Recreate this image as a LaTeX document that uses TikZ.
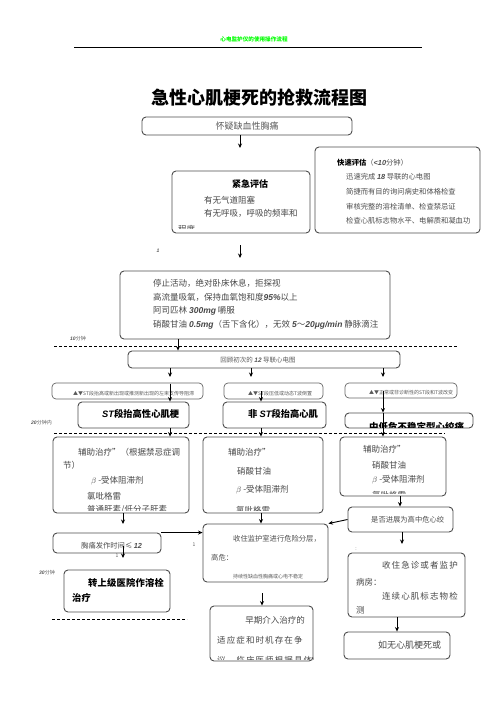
\documentclass[tikz,border=0pt]{standalone}
\usepackage{fontspec}
\setmainfont{Noto Sans CJK SC}
\newfontfamily\numfont{Liberation Sans}
\usetikzlibrary{arrows.meta}
\newcommand{\numbi}[1]{{\numfont\bfseries\itshape #1}}
\tikzset{
  box/.style={draw=black!70, line width=0.9pt, rounded corners=4pt, inner sep=0pt},
  thinbox/.style={draw=black!60, line width=0.7pt, rounded corners=4pt, inner sep=0pt},
  arr/.style={-{Stealth[length=4.5pt,width=4pt]}, line width=0.9pt},
  sep/.style={dash pattern=on 3pt off 2pt, line width=0.7pt},
  txt/.style={anchor=west, inner sep=0pt, text=black!72, font=\fontsize{8.5}{10}\selectfont},
  small/.style={anchor=west, inner sep=0pt, text=black!70, font=\fontsize{7.3}{9}\selectfont},
  tiny/.style={inner sep=0pt, text=black!65, font=\fontsize{5}{6}\selectfont},
  head/.style={anchor=west, inner sep=0pt, font=\bfseries\fontsize{9.3}{11}\selectfont},
  wide/.style={txt, font=\fontsize{8.5}{10}\selectfont\addfontfeature{LetterSpace=13}}
}
\begin{document}
\begin{tikzpicture}[x=1pt, y=-1pt]
    \useasboundingbox (0,0) rectangle (496,702);
    \node[inner sep=0pt, text=green, font=\bfseries\fontsize{5.6}{6}\selectfont] (header) at (254,39) {心电监护仪的使用操作流程};
    \draw[line width=0.6pt] (74,47) -- (422,47);
    \node[inner sep=0pt, font=\bfseries\fontsize{18}{20}\selectfont] (title) at (259,98) {急性心肌梗死的抢救流程图};

    \node[box, minimum width=210pt, minimum height=18pt, text=black!65, font=\fontsize{9}{10}\selectfont] (suspect) at (247,126) {怀疑缺血性胸痛};
    \node[box, minimum width=138pt, minimum height=62pt] (urgent) at (241,202) {};
    \node[box, minimum width=165pt, minimum height=86pt] (fast) at (397.5,190) {};
    \node[box, minimum width=270pt, minimum height=68pt] (stop) at (255,305) {};
    \node[box, minimum width=272pt, minimum height=17pt] (review) at (264,359.5) {};
    \node[thinbox, minimum width=151pt, minimum height=16pt] (stA) at (127.5,391) {};
    \node[thinbox, minimum width=99pt, minimum height=16pt] (stB) at (273.5,391) {};
    \node[thinbox, minimum width=112pt, minimum height=15pt] (stC) at (401,390.5) {};
    \node[box, minimum width=111pt, minimum height=26pt] (stemi) at (133.5,415) {};
    \node[box, minimum width=103pt, minimum height=26pt] (nstemi) at (274.5,415) {};
    \node[box, minimum width=128pt, minimum height=15pt] (ua) at (409,420.5) {};
    \node[box, minimum width=136pt, minimum height=76pt] (auxA) at (121,475) {};
    \node[box, minimum width=120pt, minimum height=76pt] (auxB) at (263,475) {};
    \node[box, minimum width=106pt, minimum height=59pt] (auxC) at (393,466.5) {};
    \node[box, minimum width=105pt, minimum height=25pt] (progress) at (400.5,519.5) {};
    \node[box, minimum width=108pt, minimum height=20pt] (onset) at (107,543) {};
    \node[box, minimum width=125pt, minimum height=58pt] (ccu) at (265.5,553) {};
    \node[box, minimum width=106pt, minimum height=42pt] (transfer) at (117,591) {};
    \node[box, minimum width=103pt, minimum height=55pt] (early) at (261.5,633.5) {};
    \node[box, minimum width=117pt, minimum height=64pt] (ward) at (406.5,585) {};
    \node[box, minimum width=106pt, minimum height=27pt] (nomi) at (397,645.5) {};

    \node[head, anchor=center, font=\bfseries\fontsize{9}{10}\selectfont] at (250,184) {紧急评估};
    \node[txt] at (204,200) {有无气道阻塞};
    \node[txt] at (204,213) {有无呼吸，呼吸的频率和};
    \begin{scope}
        \clip (172,220) rectangle (310,228.5);
        \node[txt] at (178,229) {程度};
    \end{scope}

    \node[small] at (337,163) {{\bfseries\color{black}快速评估}（\numbi{<10}分钟）};
    \node[small] at (346,177) {迅速完成 \numbi{18} 导联的心电图};
    \node[small] at (346,192) {简捷而有目的询问病史和体格检查};
    \node[small] at (346,207) {审核完整的溶栓清单、检查禁忌证};
    \node[small] at (346,221) {检查心肌标志物水平、电解质和凝血功};

    \node[txt] at (153,283) {停止活动，绝对卧床休息，拒探视};
    \node[txt] at (153,297) {高流量吸氧，保持血氧饱和度\numbi{95\%}以上};
    \node[txt] at (153,311) {阿司匹林 \numbi{300mg} 嚼服};
    \node[txt] at (153,325) {硝酸甘油 \numbi{0.5mg}（舌下含化），无效 \numbi{5}～\numbi{20μg/min} 静脉滴注};

    \begin{scope}
        \clip (128,351) rectangle (400,362.5);
        \node[tiny, font=\fontsize{6.5}{7}\selectfont] at (258,360.5) {回顾初次的 \numbi{12} 导联心电图};
    \end{scope}
    \node[tiny, anchor=west] at (73,394) {▲▼ST段抬高或新出现或推测新出现的左束支传导阻滞};
    \node[tiny, anchor=west] at (248,394) {▲▼ST段压低或动态T波倒置};
    \node[tiny, anchor=west] at (369,393) {▲▼正常或非诊断性的ST段和T波改变};

    \node[head] at (102,414) {\numbi{ST}段抬高性心肌梗};
    \node[head] at (248,414) {非 \numbi{ST}段抬高心肌};
    \begin{scope}
        \clip (345,413) rectangle (473,427);
        \node[head, font=\bfseries\fontsize{9.5}{11}\selectfont] at (369,427) {中低危不稳定型心绞痛};
    \end{scope}

    \node[txt] at (78,452) {辅助治疗”（根据禁忌症调};
    \node[txt] at (63,465) {节）};
    \node[txt] at (91,481) {$\beta$ -受体阻滞剂};
    \node[txt] at (87,496) {氯吡格雷};
    \node[txt] at (228,452) {辅助治疗”};
    \node[txt] at (237,471) {硝酸甘油};
    \node[txt] at (236,490) {$\beta$ -受体阻滞剂};
    \node[txt] at (363,449) {辅助治疗”};
    \node[txt] at (372,465) {硝酸甘油};
    \node[txt] at (372,480) {$\beta$ -受体阻滞剂};
    \begin{scope}
        \clip (53,437) rectangle (446,510.5);
        \node[txt] at (87,510) {普通肝素/低分子肝素};
        \node[txt] at (236,510) {氯吡格雷};
    \end{scope}
    \begin{scope}
        \clip (340,437) rectangle (446,493.5);
        \node[txt] at (372,495) {氯吡格雷};
    \end{scope}

    \node[small] at (371,520) {是否进展为高中危心绞};
    \node[small] at (81,546) {胸痛发作时间≤ \numbi{12}};
    \node[small] at (233,539) {收住监护室进行危险分层，};
    \node[small] at (211,558) {高危：};
    \begin{scope}
        \clip (203,571) rectangle (328,578);
        \node[tiny, anchor=west] at (233,576.5) {持续性缺血性胸痛或心电不稳定};
    \end{scope}
    \node[head, font=\bfseries\fontsize{9.3}{11}\selectfont\addfontfeature{LetterSpace=2}] at (88,583) {转上级医院作溶栓};
    \node[head] at (72,598) {治疗};

    \node[txt, anchor=east] at (305,620) {早期介入治疗的};
    \node[wide] at (217,640) {适应症和时机存在争};
    \begin{scope}
        \clip (210,606) rectangle (313,659);
        \node[wide] at (217,660) {议，临床医师根据具体情};
    \end{scope}
    \node[wide, anchor=east] at (458,565) {收住急诊或者监护};
    \node[txt] at (356,582) {病房：};
    \node[wide, anchor=east] at (458,596) {连续心肌标志物检};
    \node[txt] at (356,610) {测};
    \node[txt, font=\fontsize{9}{10}\selectfont] at (378,645) {如无心肌梗死或};

    \node[tiny, anchor=west] at (70,339) {\numbi{10}分钟};
    \node[tiny, anchor=west] at (31,423) {\numbi{20}分钟内};
    \node[tiny, anchor=west] at (39,573) {\numbi{30}分钟};
    \node[tiny, font=\fontsize{5}{6}\selectfont] at (158,251) {\numbi{1}};
    \node[tiny] at (194,545) {1};
    \node[tiny] at (117,556) {1};
    \node[tiny] at (356,549) {:};

    \draw[sep] (54,346) -- (458,346);
    \draw[sep] (54,433) -- (445,433);
    \draw[sep] (52,619) -- (187,619);

    \coordinate (c1) at (240,148);
    \coordinate (c2) at (240,245);
    \coordinate (c3) at (240,258);
    \coordinate (c4) at (170,377);
    \coordinate (c5) at (251,377);
    \coordinate (c6) at (383,377);
    \coordinate (c7) at (123,524);
    \coordinate (c8) at (123,546);
    \coordinate (c9) at (123,558);
    \coordinate (c10) at (402,544);
    \coordinate (c11) at (262,593);
    \draw[arr] (suspect.south -| c1) -- (c1);
    \draw[arr] (c2) -- (c3);
    \draw[arr] (stop.south -| 178,0) -- (review.north -| 178,0);
    \draw[arr] (review.south -| c4) -- (c4);
    \draw[arr] (review.south -| c5) -- (c5);
    \draw[arr] (review.south -| c6) -- (c6);
    \draw[arr] (stA.north -| c4) ++(0,1) -- (stemi.north -| c4);
    \draw[arr] (stB.center -| 261,0) -- (nstemi.north -| 261,0);
    \draw[arr] (stC.center -| c6) -- (ua.north -| c6);
    \draw (ua.north -| c6) -- (ua.south -| c6);
    \draw[arr] (stemi.south -| c4) -- (auxA.north -| c4);
    \draw[arr] (nstemi.south -| 261,0) -- (auxB.north -| 261,0);
    \draw[arr] (ua.south -| c6) -- (auxC.north -| c6);
    \draw[arr] (auxA.south -| c7) -- (c7);
    \draw[arr] (c8) -- (c9);
    \draw[arr] (auxB.south -| 261,0) -- (ccu.north -| 261,0);
    \draw[arr] (auxC.south -| 400,0) -- (progress.north -| 400,0);
    \draw[arr] (progress.west) -- (ccu.north east);
    \draw[arr] (onset.north east) -- (onset.north east -| ccu.west);
    \draw[arr] (progress.south -| c10) -- (c10);
    \draw[arr] (c11) -- (early.north -| c11);
    \draw[arr] (ward.south -| nomi.north) -- (nomi.north);
\end{tikzpicture}
\end{document}
